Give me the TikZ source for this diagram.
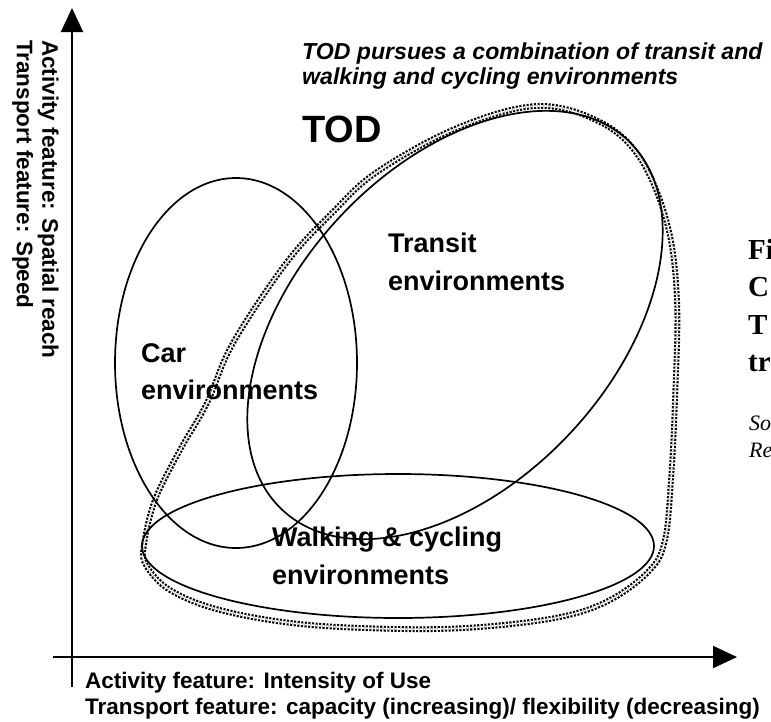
\documentclass[tikz,border=0pt]{standalone}
\usepackage{fontspec}
\setmainfont{Liberation Sans}
\newfontfamily\capfont{Liberation Serif}
\usetikzlibrary{arrows.meta}
\tikzset{
	envline/.style={line width=1.7pt},
	todline/.style={line width=2.1pt, double, double distance=1.6pt, dash pattern=on 2.1pt off 1.5pt},
	axisline/.style={line width=2pt, -{Triangle[length=24pt,width=22pt]}},
	envlabel/.style={anchor=north west, align=left, inner sep=0pt, font=\bfseries\fontsize{27}{37.5}\selectfont},
	axislabel/.style={anchor=north west, align=left, inner sep=0pt, font=\bfseries\fontsize{22.5}{25.5}\selectfont},
}
\begin{document}
\begin{tikzpicture}[x=1pt,y=-1pt]
			\useasboundingbox (0,0) rectangle (771,721);
			\clip (0,0) rectangle (771,721);
			% axes
			\coordinate (ytop) at (72,8);
			\coordinate (ybot) at (72,687);
			\coordinate (xleft) at (53,657);
			\coordinate (xright) at (737,657);
			\draw[axisline] (ybot) -- (ytop);
			\draw[axisline] (xleft) -- (xright);
			% TOD outline
			\draw[todline] plot[smooth cycle, tension=0.6] coordinates {(144,545) (155,500) (180,450) (207,403) (233,343) (287,262) (333,212) (377,172) (457,128) (537,106) (600,122) (640,158) (667,223) (677,300) (675,400) (671,480) (665,540) (650,570) (610,600) (560,617) (480,627) (400,629) (300,624) (220,610) (170,590) (146,565)};
			% environments
			\draw[envline] (236,363) ellipse [x radius=121, y radius=185];
			\draw[envline, rotate around={47:(455,325)}] (455,325) ellipse [x radius=253, y radius=158];
			\draw[envline] (398,546) ellipse [x radius=256, y radius=72];
			% labels
			\node[anchor=north west, align=left, inner sep=0pt, font=\bfseries\itshape\fontsize{23.1}{25}\selectfont] (todnote) at (302,43) {TOD pursues a combination of transit and\\walking and cycling environments};
			\node[anchor=north west, inner sep=0pt, font=\bfseries\fontsize{38}{40}\selectfont] (tod) at (302,116) {TOD};
			\node[envlabel] (transit) at (388,233) {Transit\\environments};
			\node[envlabel] (car) at (141,343) {Car\\environments};
			\node[envlabel] (walk) at (272,527) {Walking \& cycling\\environments};
			\node[axislabel, rotate=-90] (ylabel) at (59,40) {Activity feature: Spatial reach\\Transport feature: Speed};
			\node[axislabel] (xlabel) at (85,672) {Activity feature: Intensity of Use\\Transport feature: capacity (increasing)/ flexibility (decreasing)};
			% caption, cut by the page edge
			\node[anchor=north west, align=left, inner sep=0pt, font=\capfont\bfseries\fontsize{29}{37.5}\selectfont] (capfig) at (748,239) {Fi\\C\\T\\tr};
			\node[anchor=north west, align=left, inner sep=0pt, font=\capfont\itshape\fontsize{22}{27}\selectfont] (capsrc) at (749,416) {So\\Re};
\end{tikzpicture}
\end{document}
